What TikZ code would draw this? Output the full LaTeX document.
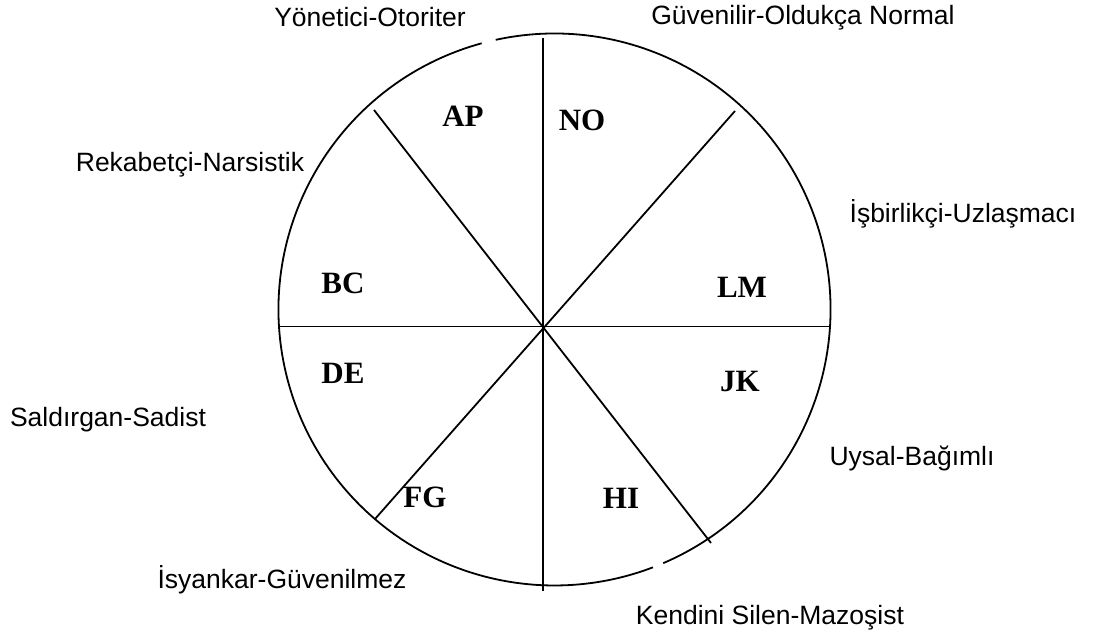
\documentclass[tikz,border=0pt]{standalone}
\usepackage{fontspec}
\setmainfont{Liberation Sans}
\newfontfamily\serifbold{Liberation Serif}
\begin{document}
\begin{tikzpicture}[x=1pt,y=1pt,
  lbl/.style={font=\fontsize{26.5}{31}\selectfont, inner sep=0pt},
  sect/.style={font=\serifbold\bfseries\fontsize{31}{36}\selectfont, inner sep=0pt},
  ln/.style={line width=1.8pt, black}]
\useasboundingbox (0,0) rectangle (1093,637);
% circle (with two small gaps)
\coordinate (C) at (554.5,327.5);
\draw[ln] (C) ++(105.3:276) arc[start angle=105.3, end angle=290.9, radius=276];
\draw[ln] (C) ++(-66.8:276) arc[start angle=-66.8, end angle=102.3, radius=276];
% spokes
\coordinate (O) at (543,310.5);
\coordinate (N) at (543,599);
\coordinate (S) at (543,46);
\coordinate (W) at (278,310.5);
\coordinate (E) at (831,310.5);
\coordinate (NW) at (374,527);
\coordinate (SE) at (711,94);
\coordinate (NE) at (735,526);
\coordinate (SW) at (375,118);
\draw[ln] (N) -- (S);
\draw[ln] (W) -- (E);
\draw[ln] (NW) -- (SE);
\draw[ln] (NE) -- (SW);
% sector labels
\node[sect] (ap) at (463,521) {AP};
\node[sect] (no) at (582,517) {NO};
\node[sect] (bc) at (343,354) {BC};
\node[sect] (lm) at (742,350) {LM};
\node[sect] (de) at (343,264) {DE};
\node[sect] (jk) at (740,255) {JK};
\node[sect] (fg) at (425,140) {FG};
\node[sect] (hi) at (621,139) {HI};
% outer labels
\node[lbl] (t1) at (370,620) {Yönetici-Otoriter};
\node[lbl] (t2) at (803,619) {Güvenilir-Oldukça Normal};
\node[lbl] (t3) at (190,472) {Rekabetçi-Narsistik};
\node[lbl] (t4) at (963,423) {İşbirlikçi-Uzlaşmacı};
\node[lbl] (t5) at (108,217) {Saldırgan-Sadist};
\node[lbl] (t6) at (912,179) {Uysal-Bağımlı};
\node[lbl] (t7) at (282,57) {İsyankar-Güvenilmez};
\node[lbl] (t8) at (770,19) {Kendini Silen-Mazoşist};
\end{tikzpicture}
\end{document}
